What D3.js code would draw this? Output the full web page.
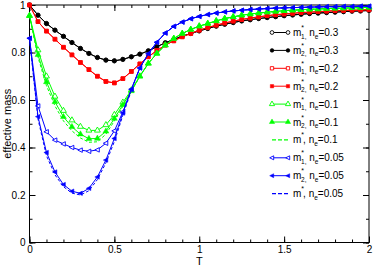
<!DOCTYPE html>
<html>
<head>
<meta charset="utf-8">
<script src="https://cdn.jsdelivr.net/npm/d3@7"></script>
<style>
  body { margin: 0; background: #fff; }
  text { font-family: "Liberation Sans", Arial, sans-serif; }
</style>
</head>
<body>
<figure id="chart" style="margin:0"></figure>
<script>
// temperature grid
const T = [0, 0.05, 0.1, 0.15, 0.2, 0.25, 0.3, 0.35, 0.4, 0.45, 0.5, 0.55, 0.6, 0.65, 0.7, 0.75, 0.8, 0.85, 0.9, 0.95,
  1, 1.05, 1.1, 1.15, 1.2, 1.25, 1.3, 1.35, 1.4, 1.45, 1.5, 1.55, 1.6, 1.65, 1.7, 1.75, 1.8, 1.85, 1.9, 1.95, 2];

// ne = 0.3 (m1 and m2 lie on top of each other)
const m1_03 = [1.0, 0.957, 0.922, 0.894, 0.868, 0.842, 0.817, 0.796, 0.779, 0.768, 0.765, 0.771, 0.782, 0.793, 0.807, 0.824, 0.841, 0.855, 0.869, 0.880,
  0.891, 0.901, 0.911, 0.919, 0.926, 0.933, 0.938, 0.943, 0.947, 0.951, 0.955, 0.958, 0.961, 0.964, 0.966, 0.968, 0.970, 0.972, 0.974, 0.975, 0.977];
const m2_03 = m1_03.slice();

// ne = 0.2
const m1_02 = [1.0, 0.930, 0.890, 0.856, 0.822, 0.790, 0.758, 0.728, 0.700, 0.678, 0.672, 0.690, 0.720, 0.752, 0.782, 0.808, 0.831, 0.849, 0.866, 0.880,
  0.894, 0.905, 0.915, 0.924, 0.932, 0.939, 0.945, 0.950, 0.955, 0.959, 0.962, 0.965, 0.968, 0.970, 0.972, 0.974, 0.976, 0.977, 0.978, 0.979, 0.980];
const m2_02 = m1_02.slice();

// ne = 0.1
const m1_01 = [0.955, 0.810, 0.700, 0.615, 0.555, 0.515, 0.488, 0.472, 0.472, 0.495, 0.538, 0.590, 0.642, 0.700, 0.754, 0.796, 0.831, 0.859, 0.880, 0.897,
  0.911, 0.922, 0.933, 0.943, 0.950, 0.957, 0.962, 0.966, 0.970, 0.973, 0.976, 0.978, 0.980, 0.982, 0.983, 0.985, 0.986, 0.987, 0.988, 0.989, 0.990];
const m2_01 = [0.955, 0.790, 0.676, 0.592, 0.529, 0.487, 0.456, 0.437, 0.438, 0.468, 0.522, 0.580, 0.638, 0.700, 0.754, 0.796, 0.831, 0.859, 0.880, 0.897,
  0.911, 0.922, 0.933, 0.943, 0.950, 0.957, 0.962, 0.966, 0.970, 0.973, 0.976, 0.978, 0.980, 0.982, 0.983, 0.985, 0.986, 0.987, 0.988, 0.989, 0.990];
const ms_01 = [0.955, 0.780, 0.660, 0.575, 0.512, 0.470, 0.440, 0.422, 0.424, 0.456, 0.512, 0.573, 0.635, 0.700, 0.754, 0.796, 0.831, 0.859, 0.880, 0.897,
  0.911, 0.922, 0.933, 0.943, 0.950, 0.957, 0.962, 0.966, 0.970, 0.973, 0.976, 0.978, 0.980, 0.982, 0.983, 0.985, 0.986, 0.987, 0.988, 0.989, 0.990];

// ne = 0.05
const m1_005 = [0.860, 0.575, 0.466, 0.431, 0.415, 0.400, 0.389, 0.384, 0.390, 0.418, 0.470, 0.550, 0.645, 0.735, 0.795, 0.843, 0.882, 0.910, 0.928, 0.942,
  0.952, 0.960, 0.966, 0.971, 0.975, 0.978, 0.981, 0.983, 0.985, 0.987, 0.988, 0.989, 0.990, 0.991, 0.992, 0.993, 0.993, 0.994, 0.994, 0.995, 0.995];
const m2_005 = [0.860, 0.530, 0.379, 0.297, 0.244, 0.216, 0.207, 0.228, 0.276, 0.347, 0.438, 0.545, 0.645, 0.735, 0.795, 0.843, 0.882, 0.910, 0.928, 0.942,
  0.952, 0.960, 0.966, 0.971, 0.975, 0.978, 0.981, 0.983, 0.985, 0.987, 0.988, 0.989, 0.990, 0.991, 0.992, 0.993, 0.993, 0.994, 0.994, 0.995, 0.995];
const ms_005 = [0.860, 0.520, 0.365, 0.285, 0.235, 0.208, 0.200, 0.218, 0.265, 0.335, 0.425, 0.535, 0.640, 0.735, 0.795, 0.843, 0.882, 0.910, 0.928, 0.942,
  0.952, 0.960, 0.966, 0.971, 0.975, 0.978, 0.981, 0.983, 0.985, 0.987, 0.988, 0.989, 0.990, 0.991, 0.992, 0.993, 0.993, 0.994, 0.994, 0.995, 0.995];

const xMajor = [0, 0.5, 1, 1.5, 2];
const yMajor = [0, 0.2, 0.4, 0.6, 0.8, 1];

const width = 373, height = 266;
const margin = { left: 29.5, right: 369, top: 5, bottom: 242.5 };

// triangle pointing left, not one of d3's built-ins
const triLeft = {
  draw(ctx, size) {
    const h = Math.sqrt(size) * 0.62;
    ctx.moveTo(-h * 1.15, 0);
    ctx.lineTo(h * 0.85, -h);
    ctx.lineTo(h * 0.85, h);
    ctx.closePath();
  }
};

// series in legend (drawing) order
const series = [
  { key: "1", ne: "0.3", values: m1_03, color: "#000", sym: d3.symbolCircle, size: 14, open: true },
  { key: "2", ne: "0.3", values: m2_03, color: "#000", sym: d3.symbolCircle, size: 14, open: false },
  { key: "1", ne: "0.2", values: m1_02, color: "#ff0000", sym: d3.symbolSquare, size: 14, open: true },
  { key: "2", ne: "0.2", values: m2_02, color: "#ff0000", sym: d3.symbolSquare, size: 14, open: false },
  { key: "1", ne: "0.1", values: m1_01, color: "#00ff00", sym: d3.symbolTriangle, size: 15, open: true },
  { key: "2", ne: "0.1", values: m2_01, color: "#00ff00", sym: d3.symbolTriangle, size: 15, open: false },
  { key: "", ne: "0.1", values: ms_01, color: "#00ff00", sym: null, dashed: true },
  { key: "1", ne: "0.05", values: m1_005, color: "#0000ff", sym: triLeft, size: 13, open: true },
  { key: "2", ne: "0.05", values: m2_005, color: "#0000ff", sym: triLeft, size: 13, open: false },
  { key: "", ne: "0.05", values: ms_005, color: "#0000ff", sym: null, dashed: true }
];

const svg = d3.select("figure#chart")
  .append("svg")
  .attr("width", width)
  .attr("height", height);

const x = d3.scaleLinear().domain([0, 2]).range([margin.left, margin.right]);
const y = d3.scaleLinear().domain([0, 1]).range([margin.bottom, margin.top]);

const minorX = d3.range(0, 21).map(i => i / 10);
const minorY = d3.range(0, 11).map(i => i / 10);

// minor ticks on all four sides
const tickGroups = [
  [d3.axisBottom(x).tickValues(minorX), `translate(0,${margin.bottom})`],
  [d3.axisTop(x).tickValues(minorX), `translate(0,${margin.top})`],
  [d3.axisLeft(y).tickValues(minorY), `translate(${margin.left},0)`],
  [d3.axisRight(y).tickValues(minorY), `translate(${margin.right},0)`]
];
tickGroups.forEach(([ax, tr]) => {
  svg.append("g")
    .attr("transform", tr)
    .call(ax.tickSizeInner(-3).tickSizeOuter(0).tickFormat(""))
    .call(g => g.select(".domain").remove());
});

// major ticks, labelled on bottom and left only
svg.append("g")
  .attr("transform", `translate(0,${margin.bottom})`)
  .call(d3.axisBottom(x).tickValues(xMajor).tickSizeInner(-6).tickSizeOuter(0).tickPadding(3).tickFormat(d3.format("")))
  .call(g => g.select(".domain").remove())
  .selectAll("text").style("font-size", "10px");

svg.append("g")
  .attr("transform", `translate(0,${margin.top})`)
  .call(d3.axisTop(x).tickValues(xMajor).tickSizeInner(-6).tickSizeOuter(0).tickFormat(""))
  .call(g => g.select(".domain").remove());

svg.append("g")
  .attr("transform", `translate(${margin.left},0)`)
  .call(d3.axisLeft(y).tickValues(yMajor).tickSizeInner(-6).tickSizeOuter(0).tickPadding(4).tickFormat(d3.format("")))
  .call(g => g.select(".domain").remove())
  .selectAll("text").style("font-size", "10px");

svg.append("g")
  .attr("transform", `translate(${margin.right},0)`)
  .call(d3.axisRight(y).tickValues(yMajor).tickSizeInner(-6).tickSizeOuter(0).tickFormat(""))
  .call(g => g.select(".domain").remove());

svg.selectAll(".tick line").attr("stroke", "#000").attr("stroke-width", 1);

// frame
svg.append("rect")
  .attr("x", margin.left).attr("y", margin.top)
  .attr("width", margin.right - margin.left).attr("height", margin.bottom - margin.top)
  .attr("fill", "none").attr("stroke", "#000").attr("stroke-width", 1);

// axis titles
svg.append("text")
  .attr("x", x(1)).attr("y", 265)
  .attr("text-anchor", "middle")
  .style("font-size", "11px")
  .text("T");

svg.append("text")
  .attr("transform", `translate(10.5,${(margin.top + margin.bottom) / 2}) rotate(-90)`)
  .attr("text-anchor", "middle")
  .style("font-size", "11px")
  .text("effective mass");

const line = d3.line()
  .x((d, i) => x(T[i]))
  .y(d => y(d));

// curves with markers
series.forEach(s => {
  svg.append("path")
    .datum(s.values)
    .attr("d", line)
    .attr("fill", "none")
    .attr("stroke", s.color)
    .attr("stroke-width", 1)
    .attr("stroke-dasharray", s.dashed ? "3,2" : null);

  if (s.sym) {
    svg.append("g")
      .selectAll("path")
      .data(s.values)
      .enter()
      .append("path")
      .attr("transform", (d, i) => `translate(${x(T[i])},${y(d)})`)
      .attr("d", d3.symbol().type(s.sym).size(s.size))
      .attr("fill", s.open ? "#fff" : s.color)
      .attr("stroke", s.color)
      .attr("stroke-width", s.open ? 0.9 : 0.5);
  }
});

// legend
const lg = svg.append("g");
series.forEach((s, i) => {
  const ly = 32.5 + i * 17.9;
  const row = lg.append("g").attr("transform", `translate(0,${ly})`);
  row.append("line")
    .attr("x1", 272).attr("x2", 288)
    .attr("stroke", s.color).attr("stroke-width", s.dashed ? 1.2 : 1)
    .attr("stroke-dasharray", s.dashed ? "4,2" : null);
  if (s.sym) {
    [272, 288].forEach(px => {
      row.append("path")
        .attr("transform", `translate(${px},0)`)
        .attr("d", d3.symbol().type(s.sym).size(s.size * 0.8))
        .attr("fill", s.open ? "#fff" : s.color)
        .attr("stroke", s.color)
        .attr("stroke-width", s.open ? 0.9 : 0.5);
    });
  }
  const t = row.append("text")
    .attr("x", 293).attr("y", 3.5)
    .style("font-size", "10px");
  t.append("tspan").text("m");
  t.append("tspan").attr("dy", -6).style("font-size", "7px").text("*");
  if (s.key) {
    t.append("tspan").attr("dx", -3).attr("dy", 8.5).style("font-size", "6.5px").text(s.key + ",");
    t.append("tspan").attr("dy", -2.5).text(" n");
  } else {
    t.append("tspan").attr("dx", -1).attr("dy", 6).text(", n");
  }
  t.append("tspan").attr("dy", 2.5).style("font-size", "6.5px").text("e");
  t.append("tspan").attr("dy", -2.5).text("=" + s.ne);
});
</script>
</body>
</html>
